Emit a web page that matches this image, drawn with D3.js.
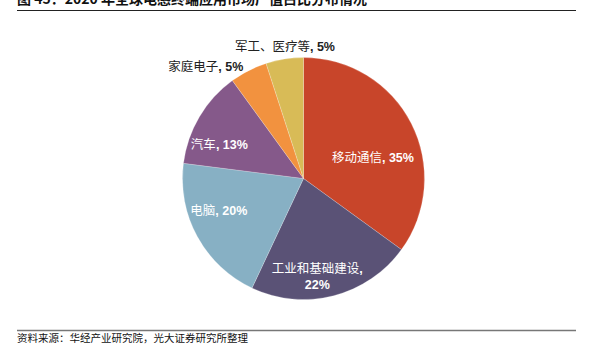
<!DOCTYPE html>
<html><head><meta charset="utf-8">
<script src="https://cdn.jsdelivr.net/npm/d3@7"></script>
<style>body{margin:0;background:#fff}svg{display:block}</style>
</head><body>
<svg id="c" width="609" height="355"></svg>
<script>
const categories = ["移动通信", "工业和基础建设", "电脑", "汽车", "家庭电子", "军工、医疗等"];
const values = [35, 22, 20, 13, 5, 5];
const colors = ["#C8452A", "#5A5276", "#87B0C4", "#85598A", "#F2923F", "#D8BB57"];
const title = "图 45：2020 年全球电感终端应用市场产值占比分布情况";
const source = "资料来源：华经产业研究院，光大证券研究所整理";

// label layout: angle (deg, clockwise from top), distance factor of radius, inside?
const labelLayout = [
  {a: 73, r: 0.6, inside: true, lines: 1},
  {a: 172, r: 0.82, inside: true, lines: 2},
  {a: 249, r: 0.75, inside: true, lines: 1},
  {a: 292, r: 0.75, inside: true, lines: 1},
  {a: 319, r: 1.23, inside: false, lines: 1},
  {a: 352, r: 1.1, inside: false, lines: 1}
];

const svg = d3.select("#c");
const cx = 303.5, cy = 178.5, R = 121;

// title (clipped at top as in reference)
svg.append("text").attr("x", 17).attr("y", 3.5)
  .attr("font-family", "'Noto Sans CJK SC', sans-serif").attr("font-weight", "bold")
  .attr("font-size", 14).attr("fill", "#111").text(title);
svg.append("line").attr("x1", 17).attr("x2", 576).attr("y1", 10.5).attr("y2", 10.5)
  .attr("stroke", "#222").attr("stroke-width", 1.2);

const pie = d3.pie().sort(null).value(d => d)(values);
const arc = d3.arc().innerRadius(0).outerRadius(R);
const g = svg.append("g").attr("transform", `translate(${cx},${cy})`);
g.selectAll("path").data(pie).join("path")
  .attr("d", arc).attr("fill", (d, i) => colors[i])
  .attr("stroke", "rgba(255,255,255,0.35)").attr("stroke-width", 0.6);

const lg = g.append("g").attr("font-size", 12.5);
pie.forEach((d, i) => {
  const L = labelLayout[i];
  const ang = L.a * Math.PI / 180;
  const x = Math.sin(ang) * R * L.r, y = -Math.cos(ang) * R * L.r;
  const fill = L.inside ? "#fff" : "#222";
  const t = lg.append("text").attr("text-anchor", "middle").attr("fill", fill);
  const pct = values[i] + "%";
  if (L.lines === 2) {
    t.attr("transform", `translate(${x},${y - 8})`);
    const t1 = t.append("tspan").attr("x", 0).attr("dy", "0.35em");
    t1.append("tspan").attr("font-family", "'Noto Sans CJK SC', serif").text(categories[i]);
    t1.append("tspan").attr("font-family", "'Liberation Sans', Arial, sans-serif").attr("font-weight", "bold").text(",");
    t.append("tspan").attr("x", 0).attr("dy", 16)
      .attr("font-family", "'Liberation Sans', Arial, sans-serif").attr("font-weight", "bold").text(pct);
  } else {
    t.attr("transform", `translate(${x},${y})`).attr("dy", "0.35em");
    t.append("tspan").attr("font-family", "'Noto Sans CJK SC', serif").text(categories[i]);
    t.append("tspan").attr("font-family", "'Liberation Sans', Arial, sans-serif").attr("font-weight", "bold").text(", " + pct);
  }
});

svg.append("line").attr("x1", 17).attr("x2", 576).attr("y1", 330.5).attr("y2", 330.5)
  .attr("stroke", "#777").attr("stroke-width", 1.3);
svg.append("text").attr("x", 17).attr("y", 342)
  .attr("font-family", "'Noto Sans CJK SC', sans-serif").attr("font-size", 10.5)
  .attr("fill", "#111").text(source);
</script>
</body></html>
